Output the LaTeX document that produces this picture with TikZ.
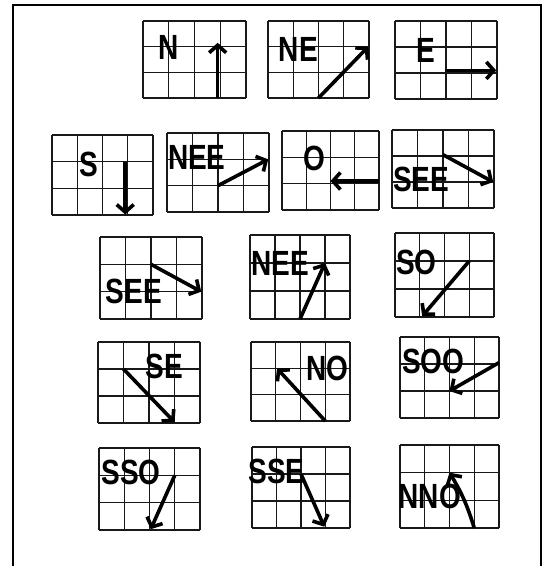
\documentclass[tikz,border=0pt]{standalone}
\usepackage{fontspec}
\setmainfont{Liberation Sans}
\usetikzlibrary{arrows.meta}
\tikzset{
  gridline/.style={line width=1.1pt, black!90},
  arr/.style={line width=3.6pt, -{Straight Barb[length=7.5pt,width=17pt]}},
  lbl/.style={inner sep=0pt, font=\fontsize{35}{35}\selectfont\bfseries},
  frame/.style={line width=2pt}
}
\newcommand\compassgrid[6]{%
  \pgfmathsetmacro\cw{(#4-#2)/4}%
  \pgfmathsetmacro\ch{(#5-#3)/3}%
  \begin{scope}[shift={(#2,#3)}, x=\cw pt, y=-\ch pt]
    \foreach \i in {0,...,4} \draw[gridline] (\i,0) -- (\i,3);
    \foreach \j in {0,...,3} \draw[gridline] (0,\j) -- (4,\j);
    #6
  \end{scope}}
\newcommand\lab[1]{\scalebox{0.8}[1]{#1}}
\begin{document}
\begin{tikzpicture}[x=1pt,y=-1pt]
\useasboundingbox (0,0) rectangle (551,566);
\coordinate (f1) at (13,566);
\coordinate (f2) at (13,5);
\coordinate (f3) at (541,5);
\coordinate (f4) at (541,566);
\draw[frame] (f1) -- (f2) -- (f3) -- (f4);
% row 1
\compassgrid{N}{143}{21}{246}{98}{
  \node[lbl] (tN) at (1.0,1.05) {\lab{N}};
  \coordinate (aN1) at (2.9,3); \coordinate (aN2) at (2.9,0.85);
  \draw[arr] (aN1) -- (aN2);}
\compassgrid{NE}{268}{21}{369}{98}{
  \node[lbl] (tNE) at (1.2,1.1) {\lab{NE}};
  \coordinate (aNE1) at (2,3); \coordinate (aNE2) at (3.97,1.0);
  \draw[arr] (aNE1) -- (aNE2);}
\compassgrid{E}{395}{21}{497}{99}{
  \node[lbl] (tE) at (1.2,1.15) {\lab{E}};
  \coordinate (aE1) at (1.95,1.9); \coordinate (aE2) at (3.97,1.9);
  \draw[arr] (aE1) -- (aE2);}
% row 2
\compassgrid{S}{52}{135}{153}{215}{
  \node[lbl] (tS) at (1.45,1.1) {\lab{S}};
  \coordinate (aS1) at (2.9,1); \coordinate (aS2) at (2.9,2.98);
  \draw[arr] (aS1) -- (aS2);}
\compassgrid{NEEa}{167}{133}{269}{212}{
  \node[lbl] (tNEEa) at (1.17,0.92) {\lab{NEE}};
  \coordinate (aNEEa1) at (2,2); \coordinate (aNEEa2) at (3.97,1.0);
  \draw[arr] (aNEEa1) -- (aNEEa2);}
\compassgrid{O}{282}{131}{379}{210}{
  \node[lbl] (tO) at (1.35,1.05) {\lab{O}};
  \coordinate (aO1) at (4,1.9); \coordinate (aO2) at (2,1.9);
  \draw[arr] (aO1) -- (aO2);}
\compassgrid{SEEa}{392}{130}{494}{208}{
  \node[lbl] (tSEEa) at (1.15,1.9) {\lab{SEE}};
  \coordinate (aSEEa1) at (2,0.95); \coordinate (aSEEa2) at (3.97,2.0);
  \draw[arr] (aSEEa1) -- (aSEEa2);}
% row 3
\compassgrid{SEEb}{100}{237}{202}{319}{
  \node[lbl] (tSEEb) at (1.33,2.0) {\lab{SEE}};
  \coordinate (aSEEb1) at (2,1); \coordinate (aSEEb2) at (3.97,2.0);
  \draw[arr] (aSEEb1) -- (aSEEb2);}
\compassgrid{NEEb}{250}{235}{350}{319}{
  \node[lbl] (tNEEb) at (1.2,1.0) {\lab{NEE}};
  \coordinate (aNEEb1) at (2,3); \coordinate (aNEEb2) at (3,1);
  \draw[arr] (aNEEb1) -- (aNEEb2);}
\compassgrid{SO}{395}{233}{494}{317}{
  \node[lbl] (tSO) at (0.87,1.05) {\lab{SO}};
  \coordinate (aSO1) at (3,1); \coordinate (aSO2) at (1.1,2.97);
  \draw[arr] (aSO1) -- (aSO2);}
% row 4
\compassgrid{SE}{98}{342}{200}{423}{
  \node[lbl] (tSE) at (2.6,0.9) {\lab{SE}};
  \coordinate (aSE1) at (1,1); \coordinate (aSE2) at (3,2.97);
  \draw[arr] (aSE1) -- (aSE2);}
\compassgrid{NO}{251}{342}{350}{421}{
  \node[lbl] (tNO) at (3.1,1.0) {\lab{NO}};
  \coordinate (aNO1) at (3,3); \coordinate (aNO2) at (1.05,1.0);
  \draw[arr] (aNO1) -- (aNO2);}
\compassgrid{SOO}{400}{337}{499}{418}{
  \node[lbl] (tSOO) at (1.35,0.9) {\lab{SOO}};
  \coordinate (aSOO1) at (4,0.95); \coordinate (aSOO2) at (2,2);
  \draw[arr] (aSOO1) -- (aSOO2);}
% row 5
\compassgrid{SSO}{99}{448}{200}{530}{
  \node[lbl] (tSSO) at (1.27,0.9) {\lab{SSO}};
  \coordinate (aSSO1) at (3,1); \coordinate (aSSO2) at (2.05,2.97);
  \draw[arr] (aSSO1) -- (aSSO2);}
\compassgrid{SSE}{252}{447}{350}{528}{
  \node[lbl] (tSSE) at (1.0,0.9) {\lab{SSE}};
  \coordinate (aSSE1) at (2,1); \coordinate (aSSE2) at (2.95,2.95);
  \draw[arr] (aSSE1) -- (aSSE2);}
\compassgrid{NNO}{400}{445}{499}{528}{
  \node[lbl] (tNNO) at (1.2,1.85) {\lab{NNO}};
  \coordinate (aNNO1) at (3,3); \coordinate (aNNO2) at (2,1);
  \draw[arr] (aNNO1) to[bend right=7] (aNNO2);}
\end{tikzpicture}
\end{document}
